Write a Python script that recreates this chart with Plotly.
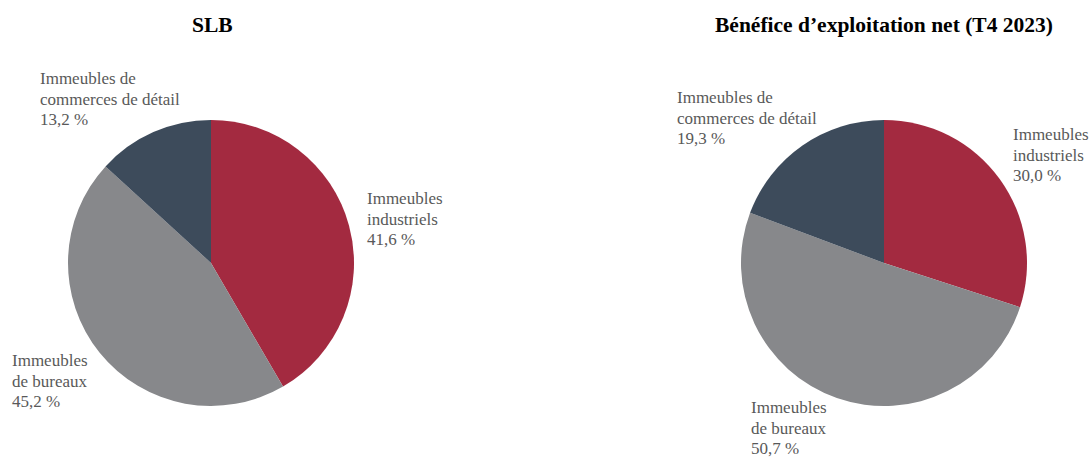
import plotly.graph_objects as go

W, H = 1091, 457

categories = ["Immeubles<br>industriels", "Immeubles<br>de bureaux", "Immeubles de<br>commerces de détail"]
slb_values = [41.6, 45.2, 13.2]
ben_values = [30.0, 50.7, 19.3]
colors = ["#A32A40", "#87888B", "#3D4B5B"]
titles = ["SLB", "Bénéfice d’exploitation net (T4 2023)"]

# label anchor positions (screen pixels: left x, middle y of block)
slb_label_pos = [(366, 219), (11, 381), (39, 99)]
ben_label_pos = [(1012, 155), (750, 428), (676, 118)]
LINE_STEP = 20.5

def px(x):
    return x / W

def py(y):
    return 1 - y / H

fig = go.Figure()

pie_top, pie_bot = 120, 406
domains = [(68, 354), (741, 1027)]

for vals, (x0, x1) in zip([slb_values, ben_values], domains):
    fig.add_trace(go.Pie(
        values=vals,
        labels=categories,
        marker=dict(colors=colors, line=dict(width=0)),
        sort=False,
        direction="clockwise",
        rotation=0,
        textinfo="none",
        hoverinfo="label+percent",
        showlegend=False,
        domain=dict(x=[px(x0), px(x1)], y=[py(pie_bot), py(pie_top)]),
    ))

annotations = []
title_centers = [212, 884]
for t, cx in zip(titles, title_centers):
    annotations.append(dict(
        text=f"<b>{t}</b>", x=px(cx), y=py(25), xref="paper", yref="paper",
        xanchor="center", yanchor="middle", showarrow=False,
        font=dict(family="Liberation Serif", size=21.5, color="#000000"),
    ))

for vals, positions in [(slb_values, slb_label_pos), (ben_values, ben_label_pos)]:
    for cat, v, (lx, ly) in zip(categories, vals, positions):
        pct = f"{v:.1f}".replace(".", ",") + " %"
        lines = cat.split("<br>") + [pct]
        n = len(lines)
        for i, line in enumerate(lines):
            yy = ly + (i - (n - 1) / 2) * LINE_STEP
            annotations.append(dict(
                text=line, x=px(lx), y=py(yy), xref="paper", yref="paper",
                xanchor="left", yanchor="middle", align="left", showarrow=False,
                borderpad=0,
                font=dict(family="Liberation Serif", size=17, color="#595959"),
            ))

fig.update_layout(
    width=W, height=H,
    margin=dict(l=0, r=0, t=0, b=0),
    paper_bgcolor="white", plot_bgcolor="white",
    annotations=annotations,
)

fig.write_html(
    "out.html",
    config={"displayModeBar": False},
    post_script="document.body.style.margin='0';document.body.style.overflow='hidden';",
)
